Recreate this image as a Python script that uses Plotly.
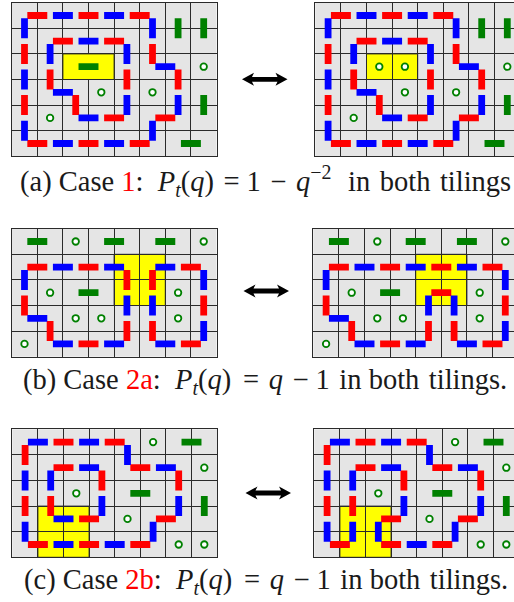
import plotly.graph_objects as go

# Each domino: (column, row, orientation), counted from the top-left cell of a tiling.
A_RED = [(0,0,'h'),(2,0,'h'),(4,0,'h'),(0,1,'v'),(0,3,'v'),(0,5,'h'),(2,5,'h'),(4,5,'h'),(5,1,'v'),(6,2,'v'),(5,4,'h'),
         (1,1,'h'),(3,1,'h'),(1,2,'v'),(2,3,'v'),(3,4,'h'),(4,2,'v')]
A_BLUE = [(1,0,'h'),(3,0,'h'),(0,0,'v'),(0,2,'v'),(0,4,'v'),(1,5,'h'),(3,5,'h'),(5,0,'v'),(5,2,'h'),(6,3,'v'),(5,4,'v'),
          (2,1,'h'),(1,1,'v'),(1,3,'h'),(2,4,'h'),(4,3,'v'),(4,1,'v')]
A_GREEN_SHARED = [(6,0,'v'),(7,0,'v'),(7,3,'v'),(6,5,'h')]
A_GREEN_LEFT = [(2,2,'h')]
A_RINGS_SHARED = [(7,2),(3,3),(5,3),(1,4)]
A_RINGS_RIGHT = [(2,2),(3,2)]
A_YELLOW = (2,4,2,3)

B_RED_SHARED = [(0,1,'h'),(2,1,'h'),(6,1,'h'),(0,2,'v'),(1,3,'v'),(2,4,'h'),(4,3,'v'),(5,3,'v'),(6,4,'h'),(7,2,'v')]
B_BLUE_SHARED = [(1,1,'h'),(3,1,'h'),(5,1,'h'),(0,1,'v'),(0,3,'h'),(1,4,'h'),(3,4,'h'),(4,2,'v'),(5,2,'v'),(5,4,'h'),(7,3,'v'),(7,1,'v')]
B_RED_LEFT = [(4,1,'v'),(5,1,'v')]
B_RED_RIGHT = [(4,1,'h'),(4,2,'h')]
B_GREEN = [(0,0,'h'),(3,0,'h'),(5,0,'h'),(2,2,'h')]
B_RINGS = [(2,0),(7,0),(1,2),(6,2),(2,3),(3,3),(6,3),(0,4)]
B_YELLOW = (4,6,1,3)

C_RED_SHARED = [(0,0,'v'),(1,0,'h'),(3,0,'h'),(0,2,'v'),(0,4,'h'),(2,4,'h'),(4,4,'h'),(5,3,'h'),(6,1,'v'),(4,1,'h'),
                (1,1,'h'),(3,1,'v'),(2,3,'h'),(1,2,'v')]
C_BLUE_SHARED = [(0,0,'h'),(2,0,'h'),(0,1,'v'),(0,3,'v'),(3,4,'h'),(5,3,'v'),(6,2,'v'),(5,1,'h'),(4,0,'v'),
                 (2,1,'h'),(3,2,'v'),(1,1,'v')]
C_BLUE_LEFT = [(1,3,'h'),(1,4,'h')]
C_BLUE_RIGHT = [(1,3,'v'),(2,3,'v')]
C_GREEN = [(6,0,'h'),(4,2,'h'),(7,2,'v')]
C_RINGS = [(5,0),(7,1),(2,2),(4,3),(6,4),(7,4)]
C_YELLOW = (1,3,3,5)

HS = '\u200a'
CAPTION_A = ('(a) Case <span style="color:#ff0000">1</span>:&nbsp; <i>P</i><sub><i>t</i></sub>(<i>q</i>)' + HS + ' = 1' + HS + ' −' + HS + ' <i>q</i>'
             '<sup>−2</sup>&nbsp;' + HS + ' in' + HS + ' both' + HS + ' tilings')
CAPTION_B = ('(b) Case <span style="color:#ff0000">2a</span>:&nbsp; <i>P</i><sub><i>t</i></sub>(<i>q</i>)' + HS + HS + ' =' + HS + ' <i>q</i>' + HS + ' − 1'
             + HS + ' in both' + HS + ' tilings.')
CAPTION_C = ('(c) Case <span style="color:#ff0000">2b</span>:&nbsp; <i>P</i><sub><i>t</i></sub>(<i>q</i>)' + HS + HS + ' =' + HS + ' <i>q</i>' + HS + ' − 1'
             + HS + ' in both' + HS + ' tilings.')

W, H, CELL = 514, 602, 25.6
BAR = 0.39

panels = [
    dict(x0=11.7,  y0=2.7,   rows=6, red=A_RED, blue=A_BLUE, green=A_GREEN_SHARED + A_GREEN_LEFT, rings=A_RINGS_SHARED, yellow=A_YELLOW, split=False),
    dict(x0=315.3, y0=2.7,   rows=6, red=A_RED, blue=A_BLUE, green=A_GREEN_SHARED, rings=A_RINGS_SHARED + A_RINGS_RIGHT, yellow=A_YELLOW, split=True),
    dict(x0=11.7,  y0=228.7, rows=5, red=B_RED_SHARED + B_RED_LEFT, blue=B_BLUE_SHARED, green=B_GREEN, rings=B_RINGS, yellow=B_YELLOW, split=True),
    dict(x0=313.3, y0=228.7, rows=5, red=B_RED_SHARED + B_RED_RIGHT, blue=B_BLUE_SHARED, green=B_GREEN, rings=B_RINGS, yellow=B_YELLOW, split=True),
    dict(x0=12.3,  y0=429.3, rows=5, red=C_RED_SHARED, blue=C_BLUE_SHARED + C_BLUE_LEFT, green=C_GREEN, rings=C_RINGS, yellow=C_YELLOW, split=True),
    dict(x0=314.3, y0=429.3, rows=5, red=C_RED_SHARED, blue=C_BLUE_SHARED + C_BLUE_RIGHT, green=C_GREEN, rings=C_RINGS, yellow=C_YELLOW, split=True),
]


def bars(items):
    xs, ys = [], []
    for c, r, o in items:
        cx, cy = (c + 1, r + 0.5) if o == 'h' else (c + 0.5, r + 1)
        if o == 'h':
            xs += [cx - BAR, cx + BAR, None]
            ys += [cy, cy, None]
        else:
            xs += [cx, cx, None]
            ys += [cy - BAR, cy + BAR, None]
    return xs, ys


fig = go.Figure()
layout = {}
shapes = []
for i, p in enumerate(panels, 1):
    sfx = '' if i == 1 else str(i)
    xa, ya = f'x{sfx}', f'y{sfx}'
    x1 = min(p['x0'] + 8 * CELL, W)
    y1 = p['y0'] + p['rows'] * CELL
    axis = dict(showgrid=True, gridcolor='#2a2a2a', gridwidth=1.2, dtick=1, tick0=0, showticklabels=False,
                ticks='', zeroline=False, showline=True, linecolor='#2a2a2a', linewidth=1.2, mirror=True, fixedrange=True)
    layout[f'xaxis{sfx}'] = dict(axis, domain=[p['x0'] / W, x1 / W], range=[0, (x1 - p['x0']) / CELL], anchor=ya)
    layout[f'yaxis{sfx}'] = dict(axis, domain=[1 - y1 / H, 1 - p['y0'] / H], range=[p['rows'], 0], anchor=xa)
    c0, c1, r0, r1 = p['yellow']
    shapes.append(dict(type='rect', xref=xa, yref=ya, x0=c0, x1=c1, y0=r0, y1=r1, fillcolor='#ffff00',
                       layer='below' if p['split'] else 'between', line=dict(color='#2a2a2a', width=1)))
    for items, color in ((p['red'], '#ff0000'), (p['blue'], '#0000ff'), (p['green'], '#008000')):
        xs, ys = bars(items)
        fig.add_trace(go.Scatter(x=xs, y=ys, xaxis=xa, yaxis=ya, mode='lines', line=dict(color=color, width=6.8),
                                 hoverinfo='skip', showlegend=False))
    fig.add_trace(go.Scatter(x=[c + 0.5 for c, r in p['rings']], y=[r + 0.5 for c, r in p['rings']], xaxis=xa, yaxis=ya,
                             mode='markers', marker=dict(size=6.5, color='white', line=dict(color='#008000', width=1.8)),
                             hoverinfo='skip', showlegend=False))

anns = []
for text, x, y in ((CAPTION_A, 18, 181), (CAPTION_B, 21, 381), (CAPTION_C, 22, 581)):
    anns.append(dict(text=text, x=x / W, y=1 - y / H, xref='paper', yref='paper', xanchor='left', yanchor='middle',
                     showarrow=False, align='left', font=dict(family='Liberation Serif', size=28.5, color='#1a1a1a')))

def px(x):
    return x / W
def py(y):
    return 1 - y / H

for xl, xr, ym in ((242, 287.5, 79.3), (243.5, 289, 291), (245.5, 291, 493)):
    pts = [(xl, ym), (xl + 12, ym - 6.5), (xl + 10, ym - 2.4), (xr - 10, ym - 2.4), (xr - 12, ym - 6.5), (xr, ym),
           (xr - 12, ym + 6.5), (xr - 10, ym + 2.4), (xl + 10, ym + 2.4), (xl + 12, ym + 6.5)]
    path = 'M ' + ' L '.join(f'{px(a):.5f},{py(b):.5f}' for a, b in pts) + ' Z'
    shapes.append(dict(type='path', xref='paper', yref='paper', path=path, fillcolor='#000000',
                       line=dict(width=0), layer='above'))

fig.update_layout(width=W, height=H, margin=dict(l=0, r=0, t=0, b=0), paper_bgcolor='white', plot_bgcolor='#e5e5e5',
                  autosize=False, showlegend=False, shapes=shapes, annotations=anns, **layout)
fig.write_html('out.html', config=dict(displayModeBar=False),
               post_script="document.body.style.margin='0';document.body.style.overflow='hidden';")
